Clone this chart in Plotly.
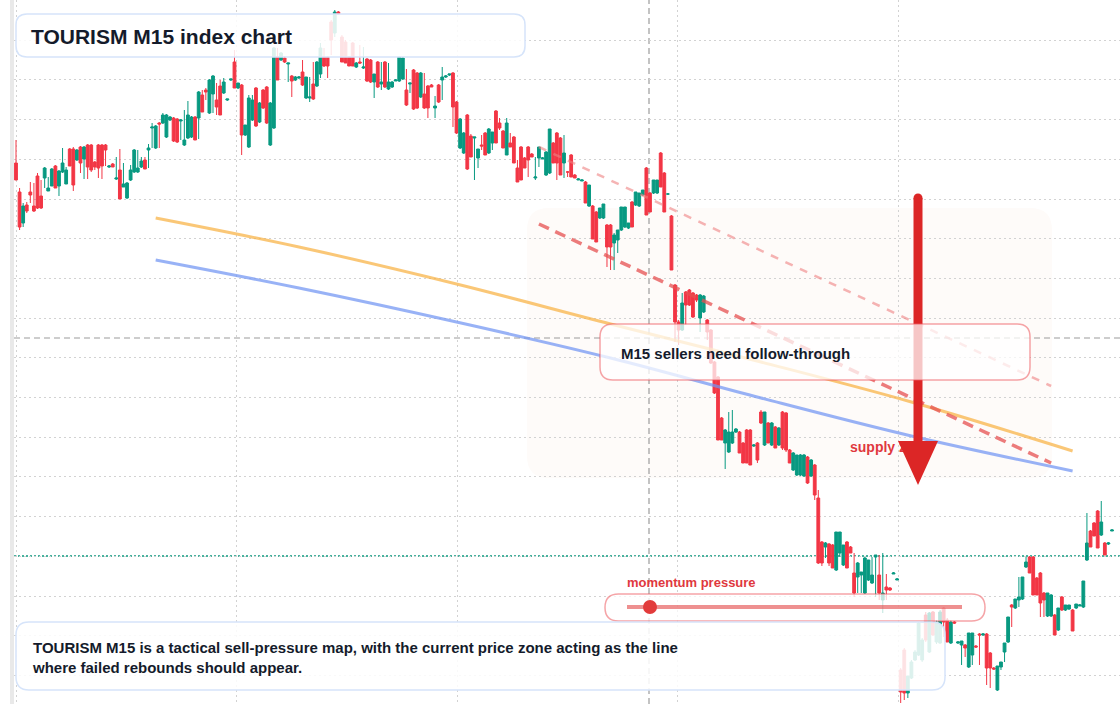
import plotly.graph_objects as go

# ---------------- data (index points, 15-minute candles) ----------------
open_ = [
    837,808,777,795,808,794,824,804,822,809,814,834,814,828,816,851,851,840,853,841,
    855,855,838,855,855,855,833,836,821,830,813,802,820,828,828,833,840,850,872,852,
    877,877,863,880,882,881,879,855,862,863,883,882,905,910,887,906,900,914,907,900,
    920,938,912,915,865,853,880,912,878,910,913,855,872,943,940,942,936,924,920,922,
    928,902,902,916,914,926,943,943,978,967,988,963,958,943,957,933,938,932,
    941,940,918,938,916,938,911,913,919,919,921,910,916,930,927,903,906,914,915,892,915,920,923,925,927,898,
    852,847,885,864,862,842,855,867,847,857,889,877,869,845,857,863,832,853,842,853,846,822,842,841,825,827,
    857,867,862,837,828,845,825,820,819,818,794,794,788,782,782,775,775,757,760,770,773,772,798,795,794,805,
    832,807,807,807,847,827,806,784,
    715,678,670,708,710,707,705,682,688,680,670,638,623,582,557,548,557,568,568,557,
    570,570,554,557,588,555,577,555,573,555,588,587,550,530,
    525,525,524,543,524,535,502,458,453,456,
    455,430,447,435,458,453,427,423,425,407,420,417,443,425,400,413,412,426,420,330,350,307,322,340,345,340,
    385,348,388,358,357,392,380,357,378,357,355,355,333,345,354,366,365,366,347,332,310,333,348,358,395,
    392,400,401,433,443,443,422,427,407,384,384,385,370,403,390,391,390,392,394,393,440,469,477,489,465,457,
    456,469,
]
high_ = [
    860,812,797,798,818,817,827,820,833,823,832,835,830,852,833,852,853,851,854,854,
    856,856,839,856,856,856,835,837,843,851,837,818,835,851,850,843,843,856,877,875,
    878,887,886,884,883,882,881,890,899,884,884,909,910,912,921,925,917,920,922,901,
    921,950,917,916,875,905,905,913,898,911,914,898,953,952,948,944,937,925,924,924,
    940,923,923,938,939,957,952,944,980,990,989,965,960,944,958,938,955,953,
    942,941,926,939,938,939,937,919,921,944,943,931,917,931,928,928,927,915,916,904,916,933,925,926,928,899,
    882,868,886,866,863,851,865,868,872,868,890,882,870,882,867,864,840,854,843,854,847,843,853,843,849,871,
    858,868,863,865,829,846,826,822,821,819,815,795,789,792,796,776,776,767,770,793,793,777,799,808,807,810,
    833,808,820,820,848,828,807,785,
    716,680,707,709,711,708,706,706,705,681,671,639,624,583,571,588,590,572,569,558,
    571,571,556,558,590,588,578,578,574,573,589,588,551,548,
    545,546,546,544,541,536,510,459,458,457,
    456,468,468,455,459,454,447,438,428,443,440,443,445,445,447,426,413,428,422,332,352,324,340,350,378,362,
    388,388,389,380,390,393,382,380,379,359,359,356,367,367,355,367,367,367,348,333,334,338,357,383,396,
    401,423,423,443,444,444,423,428,408,407,406,386,392,404,395,395,391,396,396,419,487,470,478,490,499,458,
    458,471,
]
low_ = [
    820,770,773,787,797,788,791,791,812,809,814,812,804,827,816,834,809,839,827,821,
    821,828,830,822,821,834,832,833,820,801,813,801,819,827,827,832,831,832,852,851,
    852,876,862,879,858,857,860,854,861,862,860,861,888,900,886,887,885,885,906,899,
    919,912,911,845,864,852,879,873,877,891,876,854,871,920,939,937,918,903,919,921,
    914,901,898,900,913,922,933,922,945,963,985,938,937,934,934,932,936,931,
    918,917,902,912,910,912,910,912,919,918,920,894,907,890,891,902,891,882,913,882,897,900,922,924,873,866,
    851,846,830,843,820,832,850,845,846,850,857,870,852,845,853,837,818,820,832,823,843,820,833,841,824,826,
    837,820,825,822,823,823,822,820,819,797,793,761,758,781,781,733,730,730,747,769,772,771,773,794,793,804,
    785,788,806,806,813,788,805,730,
    658,655,669,675,694,682,698,668,687,660,636,606,560,560,531,547,556,567,547,537,
    537,535,553,537,576,554,557,554,552,554,550,548,537,529,
    524,524,523,516,523,500,436,434,442,434,
    432,429,443,434,432,447,403,407,407,406,419,416,403,400,387,400,409,426,420,297,300,302,321,339,344,338,
    358,347,364,356,356,363,358,356,376,356,335,343,332,335,352,335,364,315,312,330,309,330,338,357,373,
    391,393,400,432,427,405,405,383,383,383,383,365,369,389,389,390,369,391,394,392,439,453,464,452,464,445,
    455,469,
]
close_ = [
    820,773,794,789,805,789,792,792,832,812,831,812,829,837,830,834,815,850,837,853,
    833,830,833,832,834,850,834,833,822,801,816,817,830,850,832,839,831,852,873,874,
    876,885,885,883,859,858,880,860,885,883,860,908,888,908,920,924,893,885,918,901,
    921,912,917,865,875,902,900,874,897,892,877,897,952,920,947,938,937,919,923,923,
    915,923,903,901,938,952,934,934,960,988,986,938,937,934,934,937,937,933,
    919,918,926,913,918,913,918,918,920,943,942,895,917,891,892,927,892,892,913,894,898,923,924,926,893,867,
    881,867,831,843,863,851,854,845,871,868,857,872,852,877,853,837,818,820,832,840,843,823,853,842,848,871,
    837,837,825,847,828,823,822,821,820,797,815,761,758,792,796,753,753,765,770,793,793,777,773,808,807,810,
    785,788,820,820,813,788,806,730,
    678,670,697,695,695,683,700,705,704,668,637,607,560,560,570,568,568,571,547,537,
    537,535,555,540,577,588,557,577,552,572,552,550,537,547,
    545,545,545,517,540,505,437,437,457,437,
    432,468,468,455,432,447,407,437,428,442,440,425,445,407,407,410,410,427,421,308,307,324,338,348,377,360,
    360,387,365,378,388,378,358,378,377,358,359,352,367,367,353,365,366,332,332,331,334,338,357,383,393,
    401,403,423,438,427,405,405,397,400,407,405,365,392,390,395,395,369,396,395,419,457,453,464,452,478,445,
    457,470,
]

# indicator curves (candle index, price)
ma_x = [39, 79, 123, 166, 208, 250, 295]
ma_orange = [782, 753, 716, 676, 638, 598, 549]
ma_blue = [740, 712, 678, 642, 602, 564, 529]
chan_x = [146, 289]
chan_outer = [853, 614]
chan_inner = [776, 537]
last_price = 444

title_text = "TOURISM M15 index chart"
box_text = "M15 sellers need follow-through"
zone_text = "supply zone"
gauge_text = "momentum pressure"
note_text = ("TOURISM M15 is a tactical sell-pressure map, with the current price zone acting as the line<br>"
             "where failed rebounds should appear.")

# ---------------- geometry helpers ----------------
N = len(open_)
W, H = 1120, 704
ML = 14
PW = W - ML
first_px, last_px = 16, 1112
step = (last_px - first_px) / (N - 1)
x_lo = -(first_px - ML) / step
x_hi = x_lo + PW / step
y_lo, y_hi = 296, 1000


def px(x):
    return (x - ML) / PW


def py(y):
    return 1 - y / H


def dx(x):
    return x_lo + (x - ML) / step


def dy(y):
    return y_hi - (y / H) * (y_hi - y_lo)


def rrect(x0, y0, x1, y1, r):
    rx, ry = r / PW, r / H
    X0, X1, Y0, Y1 = px(x0), px(x1), py(y0), py(y1)
    return (f"M {X0+rx},{Y0} L {X1-rx},{Y0} Q {X1},{Y0} {X1},{Y0-ry} "
            f"L {X1},{Y1+ry} Q {X1},{Y1} {X1-rx},{Y1} L {X0+rx},{Y1} "
            f"Q {X0},{Y1} {X0},{Y1+ry} L {X0},{Y0-ry} Q {X0},{Y0} {X0+rx},{Y0} Z")


GREEN = "#089981"
RED = "#f23645"
FONT = "Liberation Sans, Arial, sans-serif"
DARK = "#141b2b"
TXTRED = "#e0383e"

fig = go.Figure()

fig.add_trace(go.Candlestick(
    x=list(range(N)), open=open_, high=high_, low=low_, close=close_,
    increasing=dict(line=dict(color=GREEN, width=1), fillcolor=GREEN),
    decreasing=dict(line=dict(color=RED, width=1), fillcolor=RED),
    whiskerwidth=0, showlegend=False, hoverinfo="skip"))

fig.add_trace(go.Scatter(x=ma_x, y=ma_orange, mode="lines", hoverinfo="skip", showlegend=False,
                         line=dict(color="rgba(247,172,55,0.68)", width=3, shape="spline")))
fig.add_trace(go.Scatter(x=ma_x, y=ma_blue, mode="lines", hoverinfo="skip", showlegend=False,
                         line=dict(color="rgba(112,148,242,0.72)", width=3, shape="spline")))
fig.add_trace(go.Scatter(x=chan_x, y=chan_outer, mode="lines", hoverinfo="skip", showlegend=False,
                         line=dict(color="rgba(238,130,130,0.6)", width=2.5, dash="8px,8px")))
fig.add_trace(go.Scatter(x=chan_x, y=chan_inner, mode="lines", hoverinfo="skip", showlegend=False,
                         line=dict(color="rgba(230,80,80,0.75)", width=3.5, dash="11px,7px")))
fig.add_trace(go.Scatter(x=[dx(850)], y=[dy(448)], mode="text", text=[zone_text],
                         textposition="middle right", hoverinfo="skip", showlegend=False,
                         textfont=dict(family=FONT, size=14, color=TXTRED, weight="bold")))

shapes = []
# left strip
shapes.append(dict(type="rect", xref="paper", yref="paper", x0=px(10), x1=px(14), y0=0, y1=1,
                   fillcolor="#e9e9e9", line=dict(width=0), layer="below"))
# supply zone
shapes.append(dict(type="path", xref="paper", yref="paper", path=rrect(527, 208, 1052, 478, 22),
                   fillcolor="#fefbf9", line=dict(width=0), layer="below"))
# crosshair
shapes.append(dict(type="line", xref="paper", yref="paper", x0=px(649), x1=px(649), y0=0, y1=1,
                   line=dict(color="#9c9c9c", width=1.2, dash="6px,4px"), layer="between"))
shapes.append(dict(type="line", xref="paper", yref="paper", x0=0, x1=1, y0=py(338), y1=py(338),
                   line=dict(color="#9c9c9c", width=1.2, dash="6px,4px"), layer="between"))
# last price line
shapes.append(dict(type="line", xref="paper", yref="y", x0=0, x1=1, y0=last_price, y1=last_price,
                   line=dict(color="#0d9a80", width=1.5, dash="2px,2px"), layer="between"))
# big arrow
shapes.append(dict(type="line", xref="paper", yref="paper", x0=px(918), x1=px(918), y0=py(198), y1=py(446),
                   line=dict(color="#dc2626", width=9), layer="above"))
shapes.append(dict(type="circle", xref="paper", yref="paper", x0=px(913.5), x1=px(922.5), y0=py(202.5), y1=py(193.5),
                   fillcolor="#dc2626", line=dict(width=0), layer="above"))
shapes.append(dict(type="path", xref="paper", yref="paper",
                   path=f"M {px(898)},{py(441)} L {px(938)},{py(441)} L {px(918)},{py(485)} Z",
                   fillcolor="#dc2626", line=dict(width=0), layer="above"))
# boxes
shapes.append(dict(type="path", xref="paper", yref="paper", path=rrect(16, 14, 525, 57, 11),
                   fillcolor="rgba(255,255,255,0.86)", line=dict(color="#d6e4fa", width=1.5), layer="above"))
shapes.append(dict(type="path", xref="paper", yref="paper", path=rrect(600, 324, 1030, 380, 13),
                   fillcolor="rgba(255,255,255,0.74)", line=dict(color="rgba(236,90,95,0.55)", width=1.5), layer="above"))
shapes.append(dict(type="path", xref="paper", yref="paper", path=rrect(605, 594, 985, 621, 13.5),
                   fillcolor="rgba(255,255,255,0.74)", line=dict(color="rgba(236,90,95,0.55)", width=1.5), layer="above"))
shapes.append(dict(type="line", xref="paper", yref="paper", x0=px(627), x1=px(962), y0=py(607), y1=py(607),
                   line=dict(color="rgba(226,70,70,0.6)", width=4), layer="above"))
shapes.append(dict(type="circle", xref="paper", yref="paper", x0=px(643), x1=px(657), y0=py(614), y1=py(600),
                   fillcolor="#e23b3b", line=dict(width=0), layer="above"))
shapes.append(dict(type="path", xref="paper", yref="paper", path=rrect(16, 622, 945, 690, 13),
                   fillcolor="rgba(255,255,255,0.86)", line=dict(color="#d6e4fa", width=1.5), layer="above"))

annotations = [
    dict(xref="paper", yref="paper", x=px(29), y=py(36), text=title_text, showarrow=False,
         xanchor="left", yanchor="middle", font=dict(family=FONT, size=21, color=DARK, weight="bold")),
    dict(xref="paper", yref="paper", x=px(619), y=py(353), text=box_text, showarrow=False,
         xanchor="left", yanchor="middle", font=dict(family=FONT, size=15, color=DARK, weight="bold")),
    dict(xref="paper", yref="paper", x=px(625), y=py(582), text=gauge_text, showarrow=False,
         xanchor="left", yanchor="middle", font=dict(family=FONT, size=13, color=TXTRED, weight="bold")),
    dict(xref="paper", yref="paper", x=px(30), y=py(657.5), text=note_text, showarrow=False, align="left",
         xanchor="left", yanchor="middle", font=dict(family=FONT, size=15, color=DARK, weight="bold")),
]

fig.update_layout(
    width=W, height=H, margin=dict(l=ML, r=0, t=0, b=0),
    paper_bgcolor="white", plot_bgcolor="white",
    showlegend=False, boxgap=0.22, boxgroupgap=0,
    shapes=shapes, annotations=annotations,
    xaxis=dict(range=[x_lo, x_hi], showticklabels=False, zeroline=False, showline=False,
               showgrid=True, gridcolor="#d2d2d2", griddash="2px,3px", gridwidth=1,
               tick0=0, dtick=220.6 / step, rangeslider=dict(visible=False), fixedrange=True),
    yaxis=dict(range=[y_lo, y_hi], showticklabels=False, zeroline=False, showline=False,
               showgrid=True, gridcolor="#d2d2d2", griddash="2px,3px", gridwidth=1,
               tick0=999.5, dtick=39.7, fixedrange=True),
)

fig.write_html("out.html")
